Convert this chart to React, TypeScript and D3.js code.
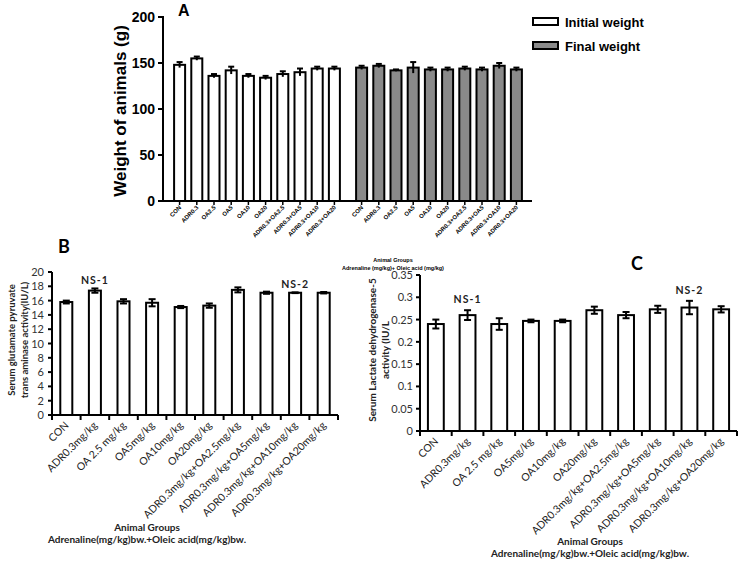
import * as d3 from "d3";

// Panel A: body weight
const groupsA = ["CON", "ADR0.3", "OA2.5", "OA5", "OA10", "OA20", "ADR0.3+OA2.5", "ADR0.3+OA5", "ADR0.3+OA10", "ADR0.3+OA20"];
const weightSeries = ["Initial weight", "Final weight"];
const initialWeight = [148, 155, 136, 142, 136, 134, 138, 140, 144, 144];
const initialErr = [3, 2, 2, 4, 2, 2, 3, 4, 2, 2];
const finalWeight = [145, 147, 142, 145, 143, 143, 144, 143, 147, 143];
const finalErr = [2, 2, 1, 6, 2, 2, 2, 2, 3, 2];
const weightTicks = [0, 50, 100, 150, 200];

// Panels B and C
const groupsBC = [
  "CON",
  "ADR0.3mg/kg",
  "OA 2.5 mg/kg",
  "OA5mg/kg",
  "OA10mg/kg",
  "OA20mg/kg",
  "ADR0.3mg/kg+OA2.5mg/kg",
  "ADR0.3mg/kg+OA5mg/kg",
  "ADR0.3mg/kg+OA10mg/kg",
  "ADR0.3mg/kg+OA20mg/kg",
];
const sgpt = [15.8, 17.4, 15.9, 15.7, 15.1, 15.3, 17.5, 17.1, 17.1, 17.1];
const sgptErr = [0.2, 0.3, 0.3, 0.5, 0.15, 0.3, 0.35, 0.15, 0.05, 0.1];
const sgptTicks = [0, 2, 4, 6, 8, 10, 12, 14, 16, 18, 20];
const ldh = [0.24, 0.26, 0.24, 0.247, 0.247, 0.271, 0.26, 0.273, 0.277, 0.273];
const ldhErr = [0.01, 0.011, 0.013, 0.003, 0.003, 0.008, 0.007, 0.008, 0.015, 0.007];
const ldhTicks = [0, 0.05, 0.1, 0.15, 0.2, 0.25, 0.3, 0.35];
const nsLabels = ["NS-1", "NS-2"];
const nsIndex = [1, 8];

const ARIAL = "'Liberation Sans', Arial, sans-serif";
const CALIBRI = "Lato, 'Open Sans', sans-serif";

function PanelA() {
  const y = d3.scaleLinear().domain([0, 200]).range([201, 17]);
  const outer = d3.scaleBand().domain(weightSeries).range([171, 525]).paddingInner(0.055);
  const inner = d3.scaleBand().domain(groupsA).range([0, outer.bandwidth()]).paddingInner(0.36).paddingOuter(0.18);
  const fills = ["#ffffff", "#8a8a8a"];
  const series = [
    { vals: initialWeight, errs: initialErr },
    { vals: finalWeight, errs: finalErr },
  ];
  const bw = inner.bandwidth();

  return (
    <g fontFamily={ARIAL}>
      <text x={178} y={16} fontSize={16} fontWeight="bold">A</text>
      {series.map((s, si) => {
        const x0 = outer(weightSeries[si])!;
        return (
          <g key={si}>
            {groupsA.map((g, i) => {
              const x = x0 + inner(g)!;
              const cx = x + bw / 2;
              const v = s.vals[i];
              const e = s.errs[i];
              return (
                <g key={g}>
                  <rect x={x} y={y(v)} width={bw} height={y(0) - y(v)} fill={fills[si]} stroke="#000" strokeWidth={2} />
                  <line x1={cx} x2={cx} y1={y(v - e)} y2={y(v + e)} stroke="#000" strokeWidth={2} />
                  <line x1={cx - 3} x2={cx + 3} y1={y(v + e)} y2={y(v + e)} stroke="#000" strokeWidth={2} />
                  <line x1={cx} x2={cx} y1={201} y2={205} stroke="#000" strokeWidth={1.5} />
                  <text
                    transform={`translate(${cx + 2},${208}) rotate(-45)`}
                    textAnchor="end"
                    fontSize={6}
                    fontWeight="bold"
                  >
                    {g}
                  </text>
                </g>
              );
            })}
          </g>
        );
      })}
      {/* axes */}
      <line x1={163} x2={163} y1={y(200) - 1} y2={y(0) + 1} stroke="#000" strokeWidth={2} />
      <line x1={162} x2={532} y1={y(0)} y2={y(0)} stroke="#000" strokeWidth={2} />
      {weightTicks.map((t) => (
        <g key={t}>
          <line x1={158} x2={163} y1={y(t)} y2={y(t)} stroke="#000" strokeWidth={2} />
          <text x={155} y={y(t) + 5} textAnchor="end" fontSize={14} fontWeight="bold">{t}</text>
        </g>
      ))}
      <text transform="translate(126,111) rotate(-90)" textAnchor="middle" fontSize={17} fontWeight="bold">
        Weight of animals (g)
      </text>
      <text x={393} y={262} textAnchor="middle" fontSize={5.5} fontWeight="bold">Animal Groups</text>
      <text x={393} y={269.5} textAnchor="middle" fontSize={5.5} fontWeight="bold">Adrenaline (mg/kg)+ Oleic acid (mg/kg)</text>
      {/* legend */}
      {weightSeries.map((s, i) => (
        <g key={s}>
          <rect x={533} y={18 + i * 24} width={25} height={7} fill={fills[i]} stroke="#000" strokeWidth={2} />
          <text x={565} y={27 + i * 24} fontSize={13} fontWeight="bold">{s}</text>
        </g>
      ))}
    </g>
  );
}

type ExcelProps = {
  values: number[];
  errs: number[];
  ticks: number[];
  x0: number;
  x1: number;
  yTop: number;
  yBottom: number;
  padding: number;
  tickRight: number;
  titleLines: string[];
  titleX: number[];
  titleY: number;
  titleSize: number;
  nsOffset: number;
  letter: string;
  letterX: number;
  letterY: number;
  groupTitleX: number;
  groupTitleY: number;
};

function ExcelPanel(p: ExcelProps) {
  const max = p.ticks[p.ticks.length - 1];
  const y = d3.scaleLinear().domain([0, max]).range([p.yBottom, p.yTop]);
  const x = d3.scaleBand().domain(groupsBC).range([p.x0, p.x1]).paddingInner(p.padding).paddingOuter(p.padding / 2);
  const step = x.step();
  const fmt = (t: number) => String(+t.toFixed(2));

  return (
    <g fontFamily={CALIBRI}>
      <text x={p.letterX} y={p.letterY} fontSize={18} fontWeight="bold">{p.letter}</text>
      {groupsBC.map((g, i) => {
        const bx = x(g)!;
        const cx = bx + x.bandwidth() / 2;
        const v = p.values[i];
        const e = p.errs[i];
        return (
          <g key={g}>
            <rect x={bx} y={y(v)} width={x.bandwidth()} height={y(0) - y(v)} fill="#fff" stroke="#000" strokeWidth={2} />
            <line x1={cx} x2={cx} y1={y(v - e)} y2={y(v + e)} stroke="#000" strokeWidth={2} />
            <line x1={cx - 3.5} x2={cx + 3.5} y1={y(v + e)} y2={y(v + e)} stroke="#000" strokeWidth={2} />
            <line x1={cx - 3.5} x2={cx + 3.5} y1={y(v - e)} y2={y(v - e)} stroke="#000" strokeWidth={2} />
            <text
              transform={`translate(${cx + 3},${p.yBottom + 11}) rotate(-45)`}
              textAnchor="end"
              fontSize={10.5}
              fill="#222"
            >
              {g}
            </text>
          </g>
        );
      })}
      {d3.range(groupsBC.length + 1).map((k) => (
        <line key={k} x1={p.x0 + k * step} x2={p.x0 + k * step} y1={p.yBottom} y2={p.yBottom + 5} stroke="#000" strokeWidth={2} />
      ))}
      <line x1={p.x0} x2={p.x0} y1={p.yTop} y2={p.yBottom + 1} stroke="#000" strokeWidth={2} />
      <line x1={p.x0 - 1} x2={p.x1} y1={p.yBottom} y2={p.yBottom} stroke="#000" strokeWidth={2} />
      {p.ticks.map((t) => (
        <g key={t}>
          <line x1={p.x0 - 4} x2={p.x0} y1={y(t)} y2={y(t)} stroke="#000" strokeWidth={2} />
          <text x={p.tickRight} y={y(t) + 4} textAnchor="end" fontSize={11} fill="#333">{fmt(t)}</text>
        </g>
      ))}
      {nsIndex.map((idx, k) => {
        const g = groupsBC[idx];
        const cx = x(g)! + x.bandwidth() / 2;
        return (
          <text key={k} x={cx} y={y(p.values[idx] + p.errs[idx]) - p.nsOffset} textAnchor="middle" fontSize={10.5} fontWeight="bold" letterSpacing={1} fill="#222">
            {nsLabels[k]}
          </text>
        );
      })}
      {p.titleLines.map((l, k) => (
        <text key={k} transform={`translate(${p.titleX[k]},${p.titleY}) rotate(-90)`} textAnchor="middle" fontSize={p.titleSize} fontWeight="bold" fill="#222">
          {l}
        </text>
      ))}
      <text x={p.groupTitleX} y={p.groupTitleY} textAnchor="middle" fontSize={10} fontWeight="bold" fill="#222">Animal Groups</text>
      <text x={p.groupTitleX} y={p.groupTitleY + 12} textAnchor="middle" fontSize={10} fontWeight="bold" fill="#222">
        Adrenaline(mg/kg)bw.+Oleic acid(mg/kg)bw.
      </text>
    </g>
  );
}

export default function App() {
  return (
    <svg width={740} height={563} style={{ position: "absolute", left: 0, top: 0, background: "#fff" }}>
      <rect width={740} height={563} fill="#fff" />
      <PanelA />
      <ExcelPanel
        values={sgpt}
        errs={sgptErr}
        ticks={sgptTicks}
        x0={52}
        x1={338}
        yTop={272}
        yBottom={415}
        padding={0.58}
        tickRight={44}
        titleLines={["Serum  glutamate pyruvate", "trans aminase activity(IU/L)"]}
        titleX={[15, 28]}
        titleY={340}
        titleSize={9.5}
        nsOffset={4}
        letter="B"
        letterX={58}
        letterY={253}
        groupTitleX={147}
        groupTitleY={531}
      />
      <ExcelPanel
        values={ldh}
        errs={ldhErr}
        ticks={ldhTicks}
        x0={420}
        x1={737}
        yTop={275}
        yBottom={431}
        padding={0.5}
        tickRight={413}
        titleLines={["Serum Lactate dehydrogenase-5", "activity (IU/L"]}
        titleX={[376, 389]}
        titleY={350}
        titleSize={10}
        nsOffset={7}
        letter="C"
        letterX={631}
        letterY={270}
        groupTitleX={590}
        groupTitleY={545}
      />
    </svg>
  );
}
